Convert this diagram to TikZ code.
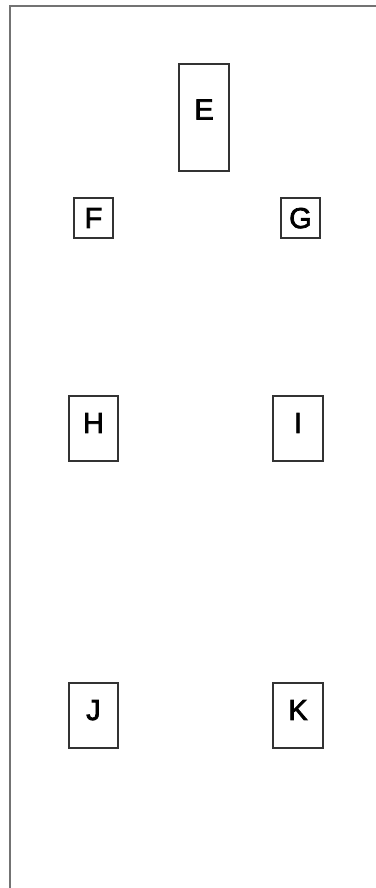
\documentclass[tikz,border=0pt]{standalone}
\usepackage{fontspec}
\setmainfont{Liberation Sans}
\begin{document}
\begin{tikzpicture}[x=1pt, y=-1pt]
% Page layout drawn on a pixel grid
\providecommand{\pageFrameColor}{black!55}
\providecommand{\blockLineColor}{black!80}
\providecommand{\pageFrameWidth}{2.5pt}
\providecommand{\blockLineWidth}{1.1pt}
\tikzset{
  blockbox/.style={rectangle, draw=\blockLineColor, line width=\blockLineWidth, inner sep=0pt, font=\fontsize{29}{32}\selectfont\addfontfeature{FakeBold=2.5}},
  smallblock/.style={blockbox, minimum width=39pt, minimum height=40pt, text depth=0pt},
  midblock/.style={blockbox, minimum width=49pt, minimum height=65pt, text depth=11pt}
}
\useasboundingbox (0,0) rectangle (375,888);
% Outer frame (only left and top edges are visible)
\draw[draw=\pageFrameColor, line width=\pageFrameWidth] (10,890) -- (10,6) -- (377,6);
% Top block
\node[blockbox, minimum width=50pt, minimum height=107pt, text depth=16pt] (E) at (204,117.5) {E};
% Small blocks
\node[smallblock] (F) at (93.5,218) {F};
\node[smallblock] (G) at (300.5,218) {G};
% Middle row
\node[midblock] (H) at (93.5,428.5) {H};
\node[midblock, minimum width=50pt] (I) at (298,428.5) {I};
% Bottom row
\node[midblock] (J) at (93.5,715.5) {J};
\node[midblock, minimum width=50pt] (K) at (298,715.5) {K};
\end{tikzpicture}
\end{document}
